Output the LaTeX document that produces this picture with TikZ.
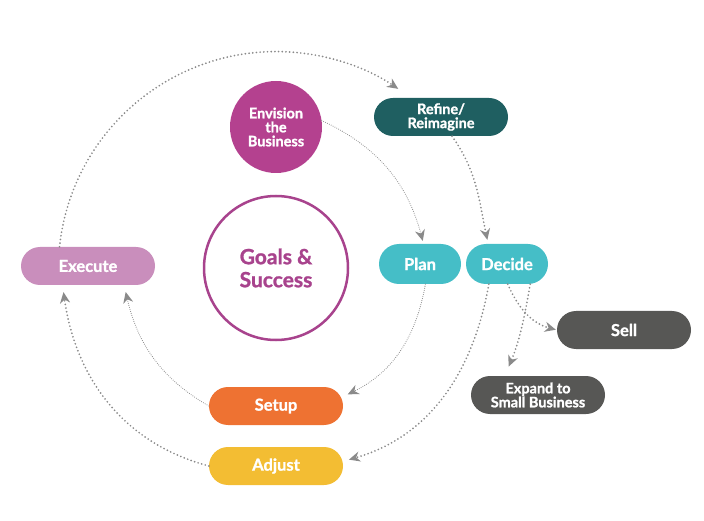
\documentclass[tikz,border=0pt]{standalone}
\usepackage{fontspec}
\setmainfont{Lato}[BoldFeatures={FakeBold=1.2}]
\usetikzlibrary{arrows.meta}
\definecolor{envpink}{HTML}{B4418F}
\definecolor{goalpink}{HTML}{A8438D}
\definecolor{refteal}{HTML}{1F5F61}
\definecolor{plancyan}{HTML}{45BEC7}
\definecolor{execpink}{HTML}{C98EBC}
\definecolor{darkgrey}{HTML}{575755}
\definecolor{setuporange}{HTML}{EE7232}
\definecolor{adjustyellow}{HTML}{F3BD33}
\definecolor{arrowgrey}{HTML}{8A8A8A}

\begin{document}
\begin{tikzpicture}
  [x=1pt,y=1pt,
   every node/.style={font=\bfseries\fontsize{16.5}{16.5}\selectfont,text=white,align=center,inner sep=0pt},
   pill/.style={rounded corners=19pt,minimum width=134pt,minimum height=38pt},
   shortpill/.style={rounded corners=20pt,minimum width=82pt,minimum height=40pt,fill=plancyan},
   small/.style={font=\bfseries\fontsize{14.5}{14}\selectfont},
   flow/.style={draw=arrowgrey,-{Stealth[length=11pt,width=10pt,inset=3.5pt]},line cap=round},
   thinflow/.style={flow,line width=1.1pt,dash pattern=on 0pt off 2.1pt},
   thickflow/.style={flow,line width=1.9pt,dash pattern=on 0pt off 3.7pt}]
  \useasboundingbox (0,0) rectangle (704,520);

  \node[circle,fill=envpink,minimum size=92pt,small] (env) at (276,393) {Envision\\the\\Business};
  \node[circle,draw=goalpink,line width=2.5pt,minimum size=144pt,text=goalpink,
        font=\bfseries\fontsize{21}{23}\selectfont] (goals) at (276,252) {Goals \&\\Success};
  \node[pill,fill=refteal,small] (refine) at (441,403) {Refine/\\Reimagine};
  \node[shortpill] (plan)   at (420,256) {Plan};
  \node[shortpill] (decide) at (507,256) {Decide};
  \node[pill,fill=execpink] (execute) at (88,254) {Execute};
  \node[pill,fill=darkgrey] (sell) at (624,190) {Sell};
  \node[pill,fill=darkgrey,small] (expand) at (538,125) {Expand to\\Small Business};
  \node[pill,fill=setuporange] (setup)  at (276,114) {Setup};
  \node[pill,fill=adjustyellow] (adjust) at (276,54) {Adjust};

  % outer loop
  \draw[thickflow] (execute.146) arc[start angle=174,end angle=56,radius=218];

  \foreach \from/\to/\o/\i/\s in {env.8/plan.80/-25/105/3,
                                  plan.-75/setup.8/-100/26/5,
                                  setup.west/execute.-28/150/-77/7}
    \draw[thinflow,shorten >=\s pt] (\from) to[out=\o,in=\i] (\to);

  \foreach \from/\to/\o/\i/\s in {refine.-60/decide.133/-55/102/4,
                                  decide.-132/adjust.4/-100/16/6,
                                  decide.-88/sell.west/-66/165/1,
                                  decide.-41/expand.150/-100/67/10,
                                  adjust.west/execute.-143/165/-82/7}
    \draw[thickflow,shorten >=\s pt] (\from) to[out=\o,in=\i] (\to);

\end{tikzpicture}
\end{document}
